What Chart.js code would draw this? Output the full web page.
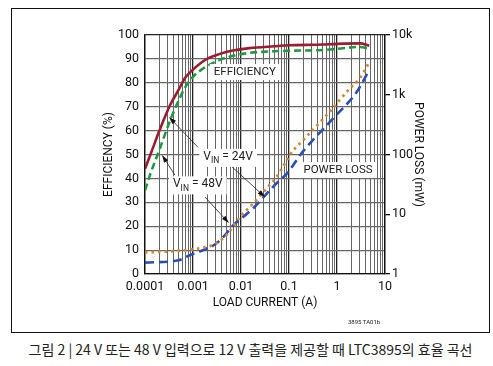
<!DOCTYPE html>
<html>
<head>
<meta charset="utf-8">
<script src="https://cdn.jsdelivr.net/npm/chart.js@4.4.1/dist/chart.umd.min.js"></script>
<style>
  body { margin: 0; background: #fff; width: 493px; height: 366px; position: relative; overflow: hidden; }
  #frame { position: absolute; left: 11px; top: 8px; width: 477px; height: 323px; border: 1px solid #111; }
  #wrap { position: absolute; left: 0; top: 0; width: 493px; height: 335px; }
  #code { position: absolute; left: 348px; top: 318px; font: 6px Roboto, sans-serif; color: #222; }
  #caption { position: absolute; left: 4px; width: 493px; top: 339px; text-align: center;
             font: 14px "Noto Sans CJK KR", sans-serif; color: #222; letter-spacing: 0px; }
</style>
</head>
<body>
<div id="frame"></div>
<div id="wrap"><canvas id="chart" width="493" height="335"></canvas></div>
<div id="code">3895 TA01b</div>
<div id="caption">그림 2 | 24 V 또는 48 V 입력으로 12 V 출력을 제공할 때 LTC3895의 효율 곡선</div>
<script>
// efficiency (%) vs load current (A)
const effCurrent = [0.0001, 0.00013, 0.0002, 0.00033, 0.0005, 0.00068, 0.001, 0.0015, 0.0022, 0.0035, 0.006, 0.015, 0.05, 0.1, 0.5, 1, 3, 4.7];
const eff24 = [44, 50, 60, 70.5, 77, 82, 85.5, 88.5, 90.5, 92, 93.3, 94.5, 95.3, 95.7, 96, 96.3, 96.5, 95.5];
const eff48 = [35, 42, 52, 64, 72.5, 78, 82.5, 85.5, 87.5, 89.5, 91, 92.5, 93.2, 93.4, 93.7, 94.2, 95, 94.3];

// power loss (mW) vs load current (A)
const loss24Current = [0.0001, 0.0005, 0.0014, 0.0026, 0.0043, 0.006, 0.0095, 0.0155, 0.021, 0.034, 0.055, 0.12, 0.17, 0.61, 1.87, 3.0, 4.6];
const loss24 = [2.3, 2.45, 2.7, 3.06, 4, 5.4, 9, 13.4, 17.3, 27, 42, 115, 154, 457, 1290, 1900, 3400];
const loss48Current = [0.0001, 0.0005, 0.0009, 0.0016, 0.003, 0.005, 0.007, 0.011, 0.018, 0.034, 0.055, 0.09, 0.2, 0.84, 2.6, 3.8, 4.7];
const loss48 = [1.55, 1.7, 2.1, 2.5, 3.2, 4.8, 6.6, 9, 12.6, 22, 33, 48, 115, 405, 1120, 1900, 2600];

const xDecades = [0.0001, 0.001, 0.01, 0.1, 1, 10];
const xLabels = ['0.0001', '0.001', '0.01', '0.1', '1', '10'];
const lossTicks = [1, 10, 100, 1000, 10000];
const lossLabels = ['1', '10', '100', '1k', '10k'];

const FONT = 'Roboto, "Liberation Sans", sans-serif';

function pts(xs, ys) {
    return xs.map((x, i) => ({ x: x, y: ys[i] }));
}

function isDecade(v) {
    return xDecades.some(d => Math.abs(d - v) / d < 1e-6);
}

const annotations = {
    boxes: [
        { text: 'EFFICIENCY', x: 0.012, y: 84.5 },
        { text: 'POWER LOSS', x: 1.05, y: 43.5 }
    ],
    vin: [
        { v: '24V', x: 0.0054, y: 49 },
        { v: '48V', x: 0.00126, y: 37.5 }
    ],
    arrows: [
        { from: [0.00127, 53], to: [0.000316, 65.7] },
        { from: [0.0065, 44.8], to: [0.0316, 32.2] },
        { from: [0.00042, 41.4], to: [0.000226, 49.8] },
        { from: [0.00178, 32.2], to: [0.0056, 21.3] }
    ]
};

const annotationPlugin = {
    id: 'notes',
    afterDatasetsDraw(chart) {
        const ctx = chart.ctx;
        const xs = chart.scales.x, ys = chart.scales.y;
        ctx.save();
        ctx.textBaseline = 'middle';

        annotations.arrows.forEach(a => {
            const x1 = xs.getPixelForValue(a.from[0]), y1 = ys.getPixelForValue(a.from[1]);
            const x2 = xs.getPixelForValue(a.to[0]), y2 = ys.getPixelForValue(a.to[1]);
            const ang = Math.atan2(y2 - y1, x2 - x1);
            ctx.strokeStyle = '#222';
            ctx.lineWidth = 0.8;
            ctx.beginPath();
            ctx.moveTo(x1, y1);
            ctx.lineTo(x2 - 5 * Math.cos(ang), y2 - 5 * Math.sin(ang));
            ctx.stroke();
            ctx.fillStyle = '#111';
            ctx.beginPath();
            ctx.moveTo(x2, y2);
            ctx.lineTo(x2 - 8 * Math.cos(ang - 0.3), y2 - 8 * Math.sin(ang - 0.3));
            ctx.lineTo(x2 - 8 * Math.cos(ang + 0.3), y2 - 8 * Math.sin(ang + 0.3));
            ctx.closePath();
            ctx.fill();
        });

        ctx.font = '11.5px ' + FONT;
        annotations.boxes.forEach(b => {
            const cx = xs.getPixelForValue(b.x), cy = ys.getPixelForValue(b.y);
            const w = ctx.measureText(b.text).width;
            ctx.fillStyle = '#fff';
            ctx.fillRect(cx - w / 2 - 4, cy - 8, w + 8, 16);
            ctx.fillStyle = '#222';
            ctx.textAlign = 'center';
            ctx.fillText(b.text, cx, cy);
        });

        annotations.vin.forEach(v => {
            const cx = xs.getPixelForValue(v.x), cy = ys.getPixelForValue(v.y);
            ctx.font = '12px ' + FONT;
            const wV = ctx.measureText('V').width;
            const rest = ' = ' + v.v;
            const wR = ctx.measureText(rest).width;
            ctx.font = '8.5px ' + FONT;
            const wIn = ctx.measureText('IN').width;
            const w = wV + wIn + wR;
            ctx.fillStyle = '#fff';
            ctx.fillRect(cx - w / 2 - 4, cy - 8, w + 8, 18);
            ctx.fillStyle = '#222';
            ctx.textAlign = 'left';
            const x0 = cx - w / 2;
            ctx.font = '12px ' + FONT;
            ctx.fillText('V', x0, cy);
            ctx.font = '8.5px ' + FONT;
            ctx.fillText('IN', x0 + wV, cy + 4);
            ctx.font = '12px ' + FONT;
            ctx.fillText(rest, x0 + wV + wIn, cy);
        });
        ctx.restore();
    }
};

const ctx = document.getElementById('chart').getContext('2d');
new Chart(ctx, {
    type: 'line',
    data: {
        datasets: [
            {
                label: 'Efficiency 24V',
                data: pts(effCurrent, eff24),
                yAxisID: 'y',
                borderColor: '#9c1c30',
                borderWidth: 2.6
            },
            {
                label: 'Efficiency 48V',
                data: pts(effCurrent, eff48),
                yAxisID: 'y',
                borderColor: '#1f9a3e',
                borderWidth: 2.6,
                borderDash: [7, 4]
            },
            {
                label: 'Power loss 24V',
                data: pts(loss24Current, loss24),
                yAxisID: 'y2',
                borderColor: '#d6852f',
                borderWidth: 2.8,
                borderDash: [2.5, 4]
            },
            {
                label: 'Power loss 48V',
                data: pts(loss48Current, loss48),
                yAxisID: 'y2',
                borderColor: '#2a4eb8',
                borderWidth: 2.6,
                borderDash: [9, 5]
            }
        ]
    },
    options: {
        responsive: false,
        animation: false,
        layout: { padding: { left: 98, right: 64, top: 35, bottom: 21 } },
        elements: {
            point: { radius: 0 },
            line: { cubicInterpolationMode: 'monotone', fill: false }
        },
        plugins: {
            legend: { display: false },
            tooltip: { enabled: false }
        },
        scales: {
            x: {
                type: 'logarithmic',
                min: 0.0001,
                max: 10,
                afterBuildTicks: scale => {
                    const t = [];
                    for (let e = -4; e <= 0; e++) {
                        for (let m = 1; m <= 9; m++) t.push({ value: +(m * Math.pow(10, e)).toPrecision(3) });
                    }
                    t.push({ value: 10 });
                    scale.ticks = t;
                },
                afterFit: scale => { scale.height = 40; },
                ticks: {
                    autoSkip: false,
                    maxRotation: 0,
                    padding: 5,
                    color: '#111',
                    font: { family: FONT, size: 12.5 },
                    callback: v => {
                        const i = xDecades.findIndex(d => Math.abs(d - v) / d < 1e-6);
                        return i >= 0 ? xLabels[i] : '';
                    }
                },
                grid: {
                    drawTicks: false,
                    color: c => (c.tick && isDecade(c.tick.value)) ? '#222' : '#555',
                    lineWidth: c => (c.tick && isDecade(c.tick.value)) ? 1.3 : 0.9
                },
                border: { display: true, color: '#111', width: 1.3 },
                title: {
                    display: true,
                    text: 'LOAD CURRENT (A)',
                    color: '#111',
                    font: { family: FONT, size: 12 },
                    padding: { top: 2, bottom: 4 }
                }
            },
            y: {
                position: 'left',
                min: 0,
                max: 100,
                afterFit: scale => { scale.width = 47; },
                ticks: {
                    stepSize: 10,
                    padding: 6,
                    color: '#111',
                    font: { family: FONT, size: 12.5 }
                },
                grid: {
                    drawTicks: false,
                    color: c => (c.tick && c.tick.value === 100) ? '#222' : '#666',
                    lineWidth: 1.2
                },
                border: { display: true, color: '#111', width: 1.3 },
                title: {
                    display: true,
                    text: 'EFFICIENCY (%)',
                    color: '#111',
                    font: { family: FONT, size: 12 },
                    padding: { top: 4, bottom: 4 }
                }
            },
            y2: {
                type: 'logarithmic',
                position: 'right',
                min: 1,
                max: 10000,
                afterBuildTicks: scale => {
                    scale.ticks = lossTicks.map(v => ({ value: v }));
                },
                afterFit: scale => { scale.width = 44; },
                ticks: {
                    padding: 2,
                    color: '#111',
                    font: { family: FONT, size: 12.5 },
                    callback: v => {
                        const i = lossTicks.indexOf(v);
                        return i >= 0 ? lossLabels[i] : '';
                    }
                },
                grid: {
                    drawOnChartArea: false,
                    drawTicks: true,
                    tickLength: 5,
                    color: '#111',
                    lineWidth: 1.3
                },
                border: { display: true, color: '#111', width: 1.3 },
                title: {
                    display: true,
                    text: 'POWER LOSS (mW)',
                    color: '#111',
                    font: { family: FONT, size: 12 },
                    padding: { top: 4, bottom: 4 }
                }
            }
        }
    },
    plugins: [annotationPlugin]
});
</script>
</body>
</html>
